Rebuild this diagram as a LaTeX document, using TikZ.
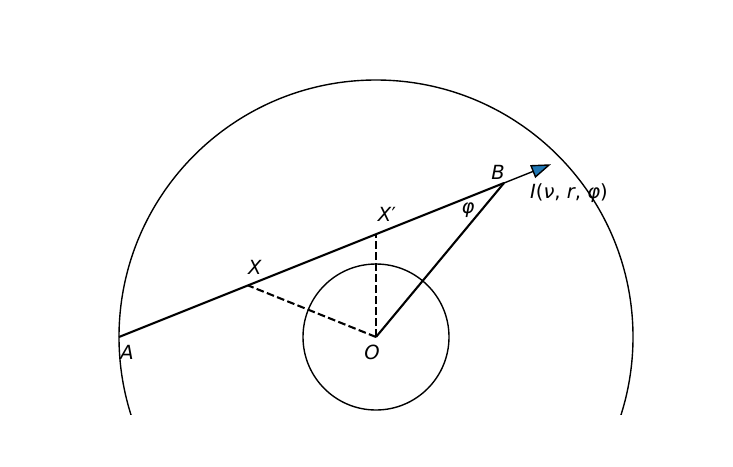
\documentclass[tikz,border=0pt]{standalone}
\usepackage{fontspec}
\setmainfont{DejaVu Sans}
\usetikzlibrary{calc}
\tikzset{
  lbl/.style={inner sep=0pt, font=\fontsize{19.5}{21}\selectfont},
  thinc/.style={line width=1.39pt},
  seg/.style={line width=2.08pt},
  dseg/.style={line width=2.08pt, dash pattern=on 7.7pt off 3.3pt},
}
\begin{document}
\begin{tikzpicture}[x=1pt,y=-1pt]
\useasboundingbox (0,0) rectangle (733,466);
\coordinate (O) at (376,337);
\coordinate (A) at (119,337);
\coordinate (B) at (504,183);
\coordinate (X) at (248,285.4);
\coordinate (Xp) at (376,234.2);
\coordinate (T) at (549,165);
\coordinate (H) at ($(B)!0.65!(T)$);
\coordinate (H1) at ($(H)!6pt!90:(T)$);
\coordinate (H2) at ($(H)!6pt!-90:(T)$);
\begin{scope}
\clip (0,0) rectangle (733,414);
\draw[thinc] (O) circle[radius=257pt];
\end{scope}
\draw[thinc] (O) circle[radius=73pt];
\draw[seg] (A) -- (B);
\draw[seg] (O) -- (B);
\draw[dseg] (O) -- (X);
\draw[dseg] (O) -- (Xp);
\draw[line width=1.39pt] (B) -- (H);
\draw[line width=1.39pt, fill={rgb,255:red,31;green,119;blue,180}, line join=miter] (T) -- (H1) -- (H2) -- cycle;
\node[lbl] (lA) at (127,352) {\textit{A}};
\node[lbl] (lB) at (498,172) {\textit{B}};
\node[lbl] (lO) at (372,352) {\textit{O}};
\node[lbl] (lX) at (255,267) {\textit{X}};
\node[lbl] (lXp) at (387,214) {\textit{X}′};
\node[lbl] (lphi) at (468,210) {\textit{φ}};
\node[lbl] (lI) at (569,193) {\textit{I}(\textit{ν}, \textit{r}, \textit{φ})};
\end{tikzpicture}
\end{document}
